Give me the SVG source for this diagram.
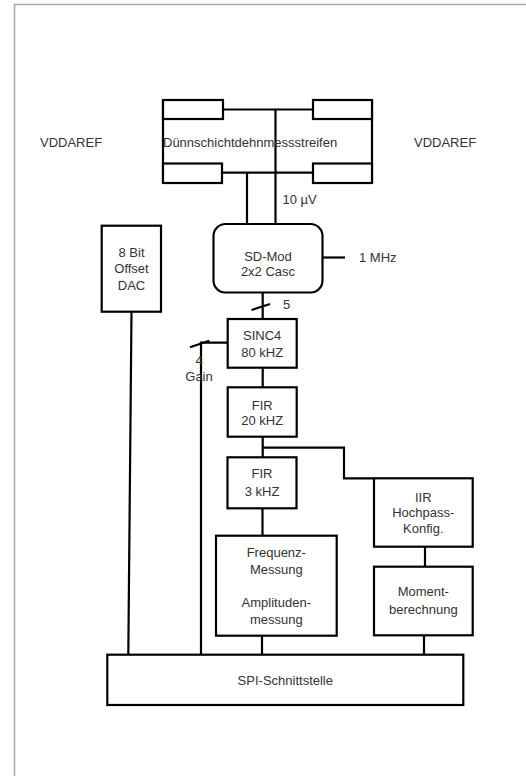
<svg xmlns="http://www.w3.org/2000/svg" width="526" height="776" viewBox="0 0 526 776">
<style>
.b{fill:#fff;stroke:#000;stroke-width:2.2}
.l{fill:none;stroke:#000;stroke-width:2.2}
.t{font-family:"Liberation Sans",Arial,sans-serif;font-size:13px;fill:#333}
.c{text-anchor:middle}
</style>
<rect width="526" height="776" fill="#fff"/>
<path d="M14.5,776 V4.5 H526" fill="none" stroke="#aaa" stroke-width="1.5"/>
<g id="connectors" class="l">
<path d="M223,109.5 H313"/>
<path d="M222,172.7 H313"/>
<path d="M275.5,109.5 V224"/>
<path d="M247,172.7 V224"/>
<path d="M322.5,257.5 H345"/>
<path d="M262.7,292.5 V319"/>
<path d="M251.5,310 L270,304"/>
<path d="M262.7,367.7 V387.3"/>
<path d="M262.7,436.7 V457.3"/>
<path d="M262.7,447.7 H344 V478.3 H374"/>
<path d="M262.5,508.3 V535.7"/>
<path d="M425,546.7 V566.7"/>
<path d="M131.5,311.7 L128.3,654.7"/>
<path d="M227.7,342.7 H201 V654.7"/>
<path d="M190,347.3 L209.3,340.7"/>
<path d="M262,635.7 V654.7"/>
<path d="M424,635.3 V654.7"/>
</g>
<g id="dms">
<path class="l" d="M163,100 V183 M372,100 V183"/>
<rect class="b" x="163" y="100" width="60" height="19"/>
<rect class="b" x="313" y="100" width="59" height="19"/>
<rect class="b" x="163" y="163.5" width="59" height="19.5"/>
<rect class="b" x="313" y="163.5" width="59" height="19.5"/>
<text class="t" x="163" y="146.5">Dünnschichtdehnmessstreifen</text>
</g>
<g id="vdd-left"><text class="t" x="40" y="146.5">VDDAREF</text></g>
<g id="vdd-right"><text class="t" x="414" y="146.5">VDDAREF</text></g>
<g id="label-10uv"><text class="t" x="282.5" y="204">10 µV</text></g>
<g id="sdmod">
<rect class="b" x="213.5" y="224" width="109" height="68.5" rx="12"/>
<text class="t c" x="268" y="261">SD-Mod</text>
<text class="t c" x="268" y="276">2x2 Casc</text>
</g>
<g id="label-1mhz"><text class="t" x="359" y="262">1 MHz</text></g>
<g id="label-5"><text class="t" x="283" y="308.5">5</text></g>
<g id="dac">
<rect class="b" x="101.7" y="225.7" width="59.3" height="86"/>
<text class="t c" x="131.5" y="257">8 Bit</text>
<text class="t c" x="131.5" y="273">Offset</text>
<text class="t c" x="131.5" y="289.5">DAC</text>
</g>
<g id="sinc4">
<rect class="b" x="227.7" y="319" width="69" height="48.7"/>
<text class="t c" x="262.2" y="339.5">SINC4</text>
<text class="t c" x="262.2" y="356.5">80 kHZ</text>
</g>
<g id="gain">
<text class="t c" x="199" y="364.5">4</text>
<text class="t c" x="199" y="380.5">Gain</text>
</g>
<g id="fir20">
<rect class="b" x="227.7" y="387.3" width="69" height="49.4"/>
<text class="t c" x="262.2" y="409.5">FIR</text>
<text class="t c" x="262.2" y="424.5">20 kHZ</text>
</g>
<g id="fir3">
<rect class="b" x="227.5" y="457.3" width="69" height="51"/>
<text class="t c" x="262" y="477.5">FIR</text>
<text class="t c" x="262" y="495.5">3 kHZ</text>
</g>
<g id="iir">
<rect class="b" x="374" y="478.3" width="98.7" height="68.4"/>
<text class="t c" x="423.3" y="501.5">IIR</text>
<text class="t c" x="423.3" y="517">Hochpass-</text>
<text class="t c" x="423.3" y="532.5">Konfig.</text>
</g>
<g id="freq">
<rect class="b" x="216" y="535.7" width="120.7" height="100"/>
<text class="t c" x="276.3" y="556.5">Frequenz-</text>
<text class="t c" x="276.3" y="573.5">Messung</text>
<text class="t c" x="276.3" y="607">Amplituden-</text>
<text class="t c" x="276.3" y="623.5">messung</text>
</g>
<g id="moment">
<rect class="b" x="374" y="566.7" width="98.7" height="68.6"/>
<text class="t c" x="423.3" y="596">Moment-</text>
<text class="t c" x="423.3" y="613.5">berechnung</text>
</g>
<g id="spi">
<rect class="b" x="107.3" y="654.7" width="356" height="50.3"/>
<text class="t c" x="285.3" y="685">SPI-Schnittstelle</text>
</g>
</svg>
